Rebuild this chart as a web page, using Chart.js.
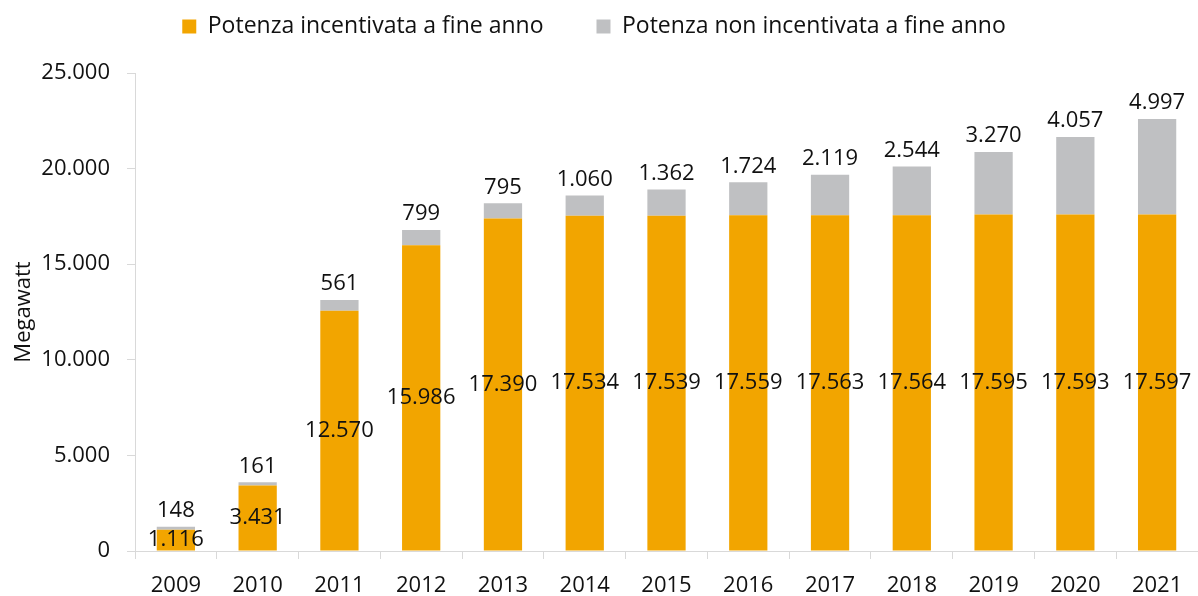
<!DOCTYPE html>
<html>
<head>
<meta charset="utf-8">
<script src="https://cdn.jsdelivr.net/npm/chart.js@4"></script>
<style>
  html, body { margin: 0; padding: 0; background: #fff; }
  #wrap { width: 1198px; height: 596px; }
</style>
</head>
<body>
<div id="wrap"><canvas id="chart"></canvas></div>
<script>
var years = ['2009', '2010', '2011', '2012', '2013', '2014', '2015', '2016', '2017', '2018', '2019', '2020', '2021'];
var incentivata = [1116, 3431, 12570, 15986, 17390, 17534, 17539, 17559, 17563, 17564, 17595, 17593, 17597];
var nonIncentivata = [148, 161, 561, 799, 795, 1060, 1362, 1724, 2119, 2544, 3270, 4057, 4997];

const FONT = '"Open Sans", "Noto Sans", sans-serif';

function fmt(v) {
  return String(v).replace(/\B(?=(\d{3})+(?!\d))/g, '.');
}

// value labels: orange ones in the middle of the bar, grey ones above the stack
const valueLabels = {
  id: 'valueLabels',
  afterDatasetsDraw(chart) {
    const ctx = chart.ctx;
    ctx.save();
    ctx.font = '22px ' + FONT;
    ctx.fillStyle = '#111';
    ctx.textAlign = 'center';
    ctx.textBaseline = 'middle';
    chart.getDatasetMeta(0).data.forEach(function (bar, i) {
      ctx.fillText(fmt(incentivata[i]), bar.x, (bar.y + bar.base) / 2);
    });
    chart.getDatasetMeta(1).data.forEach(function (bar, i) {
      ctx.fillText(fmt(nonIncentivata[i]), bar.x, bar.y - 16);
    });
    ctx.restore();
  }
};

// extra room under the legend, and nudge it a bit to the left
const legendSpace = {
  id: 'legendSpace',
  beforeInit(chart) {
    const origFit = chart.legend.fit;
    chart.legend.fit = function () {
      origFit.bind(chart.legend)();
      this.height += 25;
    };
  },
  afterLayout(chart) {
    chart.legend.left -= 8;
    chart.legend.right -= 8;
  }
};

const ctx = document.getElementById('chart').getContext('2d');
const chart = new Chart(ctx, {
  type: 'bar',
  data: {
    labels: years,
    datasets: [{
      label: 'Potenza incentivata a fine anno',
      data: incentivata,
      backgroundColor: '#F2A500',
      barPercentage: 0.468,
      categoryPercentage: 1
    }, {
      label: 'Potenza non incentivata a fine anno',
      data: nonIncentivata,
      backgroundColor: '#BFC0C2',
      barPercentage: 0.468,
      categoryPercentage: 1
    }]
  },
  options: {
    responsive: true,
    maintainAspectRatio: false,
    animation: false,
    layout: { padding: { left: 0, right: -6, top: -38, bottom: 0 } },
    plugins: {
      legend: {
        position: 'top',
        labels: {
          font: { family: FONT, size: 23 },
          color: '#111',
          boxWidth: 14,
          boxHeight: 14,
          padding: 53
        }
      },
      tooltip: { enabled: false }
    },
    scales: {
      x: {
        stacked: true,
        grid: { drawOnChartArea: false, offset: true, color: '#D9D9D9', tickLength: 8 },
        border: { color: '#D9D9D9' },
        ticks: { font: { family: FONT, size: 22 }, color: '#111', padding: 14 },
        afterFit: function (axis) { axis.height = 45; }
      },
      y: {
        stacked: true,
        min: 0,
        max: 25000,
        grid: { drawOnChartArea: false, color: '#D9D9D9', tickLength: 8 },
        border: { color: '#D9D9D9' },
        ticks: {
          stepSize: 5000,
          font: { family: FONT, size: 22 },
          color: '#111',
          padding: 17,
          callback: function (v) { return fmt(v); }
        },
        title: {
          display: true,
          text: 'Megawatt',
          font: { family: FONT, size: 22 },
          color: '#111',
          padding: { top: 11, bottom: 0 }
        },
        afterFit: function (axis) { axis.width = 135; }
      }
    }
  },
  plugins: [valueLabels, legendSpace]
});
</script>
</body>
</html>
